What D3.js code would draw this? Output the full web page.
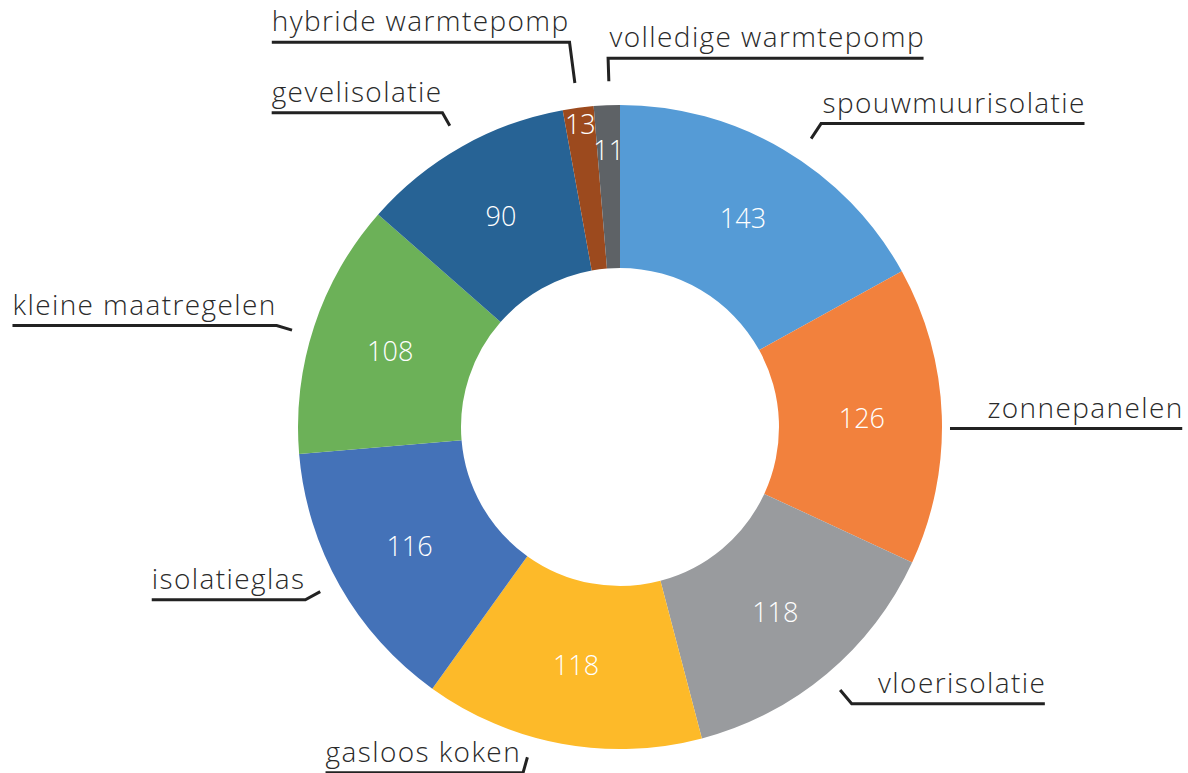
<!DOCTYPE html>
<html>
<head>
<meta charset="utf-8">
<script src="https://cdn.jsdelivr.net/npm/d3@7"></script>
<style>
  body { margin: 0; background: #fff; }
  text { font-family: "Open Sans", Lato, sans-serif; font-variant-ligatures: none; }
</style>
</head>
<body>
<script>
// chart data, clockwise from 12 o'clock
var categories = ["spouwmuurisolatie", "zonnepanelen", "vloerisolatie", "gasloos koken",
                  "isolatieglas", "kleine maatregelen", "gevelisolatie",
                  "hybride warmtepomp", "volledige warmtepomp"];
var values = [143, 126, 118, 118, 116, 108, 90, 13, 11];
var colors = ["#559bd6", "#f2813d", "#999b9e", "#fdba29", "#4472b8",
              "#6cb158", "#276395", "#9c4a1e", "#5e6266"];

var width = 1188, height = 773;
var cx = 620, cy = 427, outerR = 322, innerR = 159;

// where the value sits (radius) for slices too thin for the middle of the ring
var valueRadius = {"hybride warmtepomp": 305, "volledige warmtepomp": 277};

// leader lines: angle nudge (deg), start radius, leader length, side of underline, extra underline
var labelLayout = {
  "spouwmuurisolatie":    {da: 3,    r0: 346, len: 18, side: 1,  extra: 0},
  "zonnepanelen":         {da: 2.3,  r0: 330, len: 0,  side: 1,  extra: 36},
  "vloerisolatie":        {da: 0,    r0: 343, len: 18, side: 1,  extra: 25},
  "gasloos koken":        {da: 5.2,  r0: 343, len: 16, side: -1, extra: 2},
  "isolatieglas":         {da: 0.8,  r0: 342, len: 17, side: -1, extra: 0},
  "kleine maatregelen":   {da: -1.8, r0: 342, len: 16, side: -1, extra: 0},
  "gevelisolatie":        {da: 0,    r0: 346, len: 15, side: -1, extra: 0},
  "hybride warmtepomp":   {da: 0,    r0: 347, len: 41, side: -1, extra: 0},
  "volledige warmtepomp": {da: 0.5,  r0: 346, len: 23, side: 1,  extra: 0}
};

var data = categories.map(function(c, i) { return {name: c, value: values[i], color: colors[i]}; });

var svg = d3.select("body").append("svg")
    .attr("width", width)
    .attr("height", height);

var g = svg.append("g")
    .attr("transform", "translate(" + cx + "," + cy + ")");

var pie = d3.pie()
    .sort(null)
    .value(function(d) { return d.value; });

var arc = d3.arc()
    .innerRadius(innerR)
    .outerRadius(outerR);

var arcs = pie(data);

// slices
g.selectAll("path.slice")
    .data(arcs)
  .enter().append("path")
    .attr("class", "slice")
    .attr("d", arc)
    .attr("fill", function(d) { return d.data.color; });

// values inside the ring
function polar(r, a) { return [r * Math.sin(a), -r * Math.cos(a)]; }

g.selectAll("text.value")
    .data(arcs)
  .enter().append("text")
    .attr("class", "value")
    .attr("transform", function(d) {
      var r = valueRadius[d.data.name] || 242;
      var p = polar(r, (d.startAngle + d.endAngle) / 2);
      return "translate(" + p[0] + "," + p[1] + ")";
    })
    .attr("text-anchor", "middle")
    .attr("dy", "0.36em")
    .attr("fill", "#fff")
    .style("font-size", "27px")
    .style("font-weight", 300)
    .text(function(d) { return d.value; });

// category labels with leader line + underline
var labels = g.selectAll("g.label")
    .data(arcs)
  .enter().append("g")
    .attr("class", "label");

labels.each(function(d) {
  var sel = d3.select(this);
  var L = labelLayout[d.data.name];
  var a = (d.startAngle + d.endAngle) / 2 + L.da * Math.PI / 180;
  var p0 = polar(L.r0, a);
  var p1 = polar(L.r0 + L.len, a);

  var t = sel.append("text")
      .attr("fill", "#2a2a2a")
      .style("font-size", "28px")
      .style("font-weight", 300)
      .style("letter-spacing", "1.4px")
      .text(d.data.name);
  var tw = t.node().getComputedTextLength();
  var far = p1[0] + L.side * (tw + L.extra);

  t.attr("x", L.side > 0 ? far + 1.4 : far)
   .attr("y", p1[1] - 11)
   .attr("text-anchor", L.side > 0 ? "end" : "start");

  sel.append("path")
      .attr("d", d3.line()([p0, p1, [far, p1[1]]]))
      .attr("fill", "none")
      .attr("stroke", "#222")
      .attr("stroke-width", 3);
});
</script>
</body>
</html>
